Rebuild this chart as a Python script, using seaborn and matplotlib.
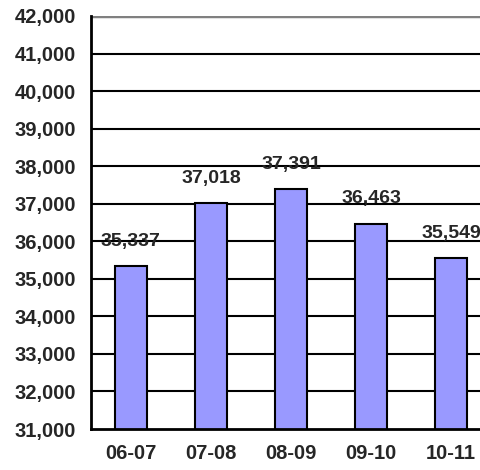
import matplotlib
matplotlib.use("Agg")
import matplotlib.pyplot as plt
import matplotlib.ticker as mticker
import seaborn as sns
import pandas as pd

years = ["06-07", "07-08", "08-09", "09-10", "10-11"]
values = [35337, 37018, 37391, 36463, 35549]

sns.set_style("white")
plt.rcParams['font.family'] = ['Liberation Sans', 'DejaVu Sans']
plt.rcParams['font.weight'] = 'bold'

df = pd.DataFrame({"year": years, "value": values})

fig = plt.figure(figsize=(4.81, 4.70), dpi=100)
ax = fig.add_axes([0.189, 0.0872, 0.832, 0.8788])

sns.barplot(data=df, x="year", y="value", color="#9999FF", saturation=1,
            edgecolor="black", linewidth=1.5, width=0.4, ax=ax, zorder=3)

ax.set_ylim(31000, 42000)
ax.set_xlim(-0.5, 4.5)
ax.set_yticks(range(31000, 42001, 1000))
ax.yaxis.set_major_formatter(mticker.FuncFormatter(lambda v, p: f"{int(v):,}"))
for y in range(32000, 42000, 1000):
    ax.axhline(y, color="black", linewidth=1.5, zorder=1)
ax.axhline(42000, color="#808080", linewidth=2.5, zorder=1)

# ticks between categories
ax.set_xticks([i + 0.5 for i in range(-1, 5)], minor=True)
ax.set_xticks(range(5))
ax.set_xticklabels(years)
ax.tick_params(axis="x", which="major", length=0, pad=11)
ax.tick_params(axis="x", which="minor", length=5, width=1.5, color="black", direction="out")
ax.tick_params(axis="y", length=5, width=1.5, color="black", direction="out", pad=6)
for lab in ax.get_xticklabels() + ax.get_yticklabels():
    lab.set_fontweight("bold")
    lab.set_fontsize(14.5)

for s in ["top", "right"]:
    ax.spines[s].set_visible(False)
ax.spines["left"].set_color("black")
ax.spines["left"].set_linewidth(2)
ax.spines["left"].set_zorder(4)
ax.spines["bottom"].set_color("black")
ax.spines["bottom"].set_linewidth(2)
ax.spines["bottom"].set_zorder(4)

ax.set_xlabel("")
ax.set_ylabel("")

for i, v in enumerate(values):
    ax.annotate(f"{v:,}", (i, v), xytext=(0, 18), textcoords="offset points",
                ha="center", va="center", fontsize=14, fontweight="bold", zorder=5)

fig.savefig("out.png", dpi=100)
